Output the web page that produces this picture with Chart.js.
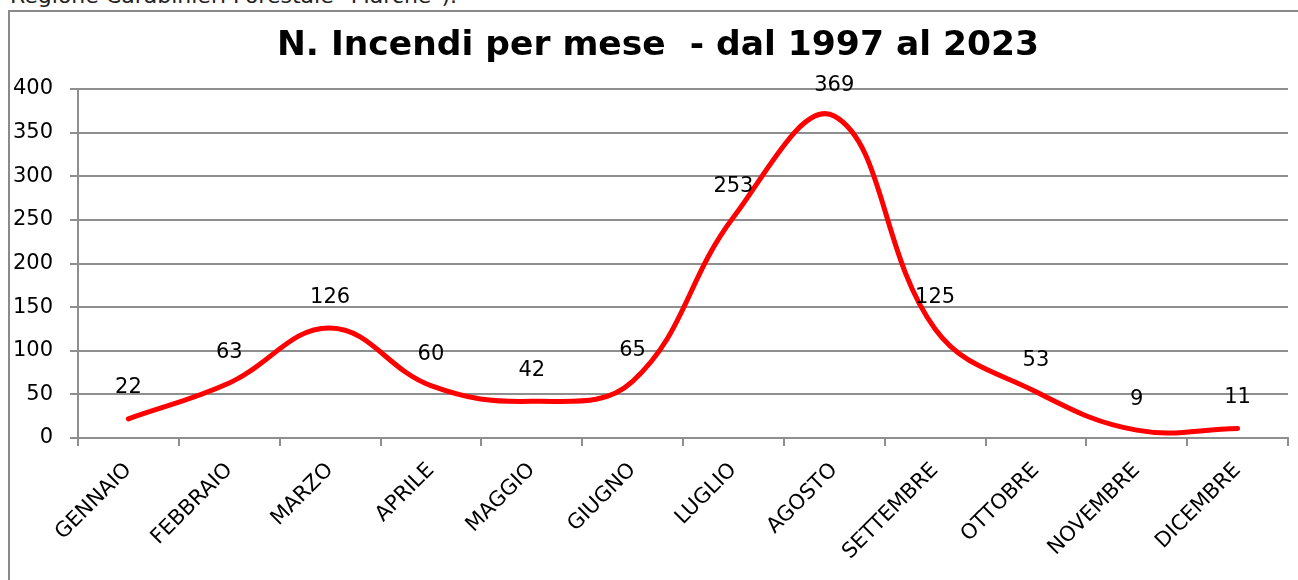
<!DOCTYPE html>
<html>
<head>
<meta charset="utf-8">
<script src="https://cdn.jsdelivr.net/npm/chart.js@4.4.1/dist/chart.umd.min.js"></script>
<style>
  html, body { margin: 0; padding: 0; background: #ffffff; overflow: hidden; width: 1298px; height: 580px; }
  #caption { position: absolute; left: 10px; top: -15px; font: 22px "DejaVu Sans", sans-serif; line-height: 22px; color: #222; white-space: nowrap; }
  #box { position: absolute; left: 8px; top: 10px; width: 1300px; height: 600px; border: 2px solid #8a8a8a; box-sizing: border-box; background: #fff; }
  canvas { display: block; }
</style>
</head>
<body>
<div id="caption">Regione Carabinieri Forestale "Marche").</div>
<div id="box"><canvas id="c" width="1296" height="596"></canvas></div>
<script>
const chartTitle = 'N. Incendi per mese  - dal 1997 al 2023';
const months = ['GENNAIO', 'FEBBRAIO', 'MARZO', 'APRILE', 'MAGGIO', 'GIUGNO', 'LUGLIO', 'AGOSTO', 'SETTEMBRE', 'OTTOBRE', 'NOVEMBRE', 'DICEMBRE'];
const fires = [22, 63, 126, 60, 42, 65, 253, 369, 125, 53, 9, 11];
const yMin = 0;
const yMax = 400;
const yStep = 50;

const GRID = '#8e8e8e';
const FONT = '"DejaVu Sans", sans-serif';

// Title centred on the whole chart box (the box is wider than the plot area).
const boxTitle = {
  id: 'boxTitle',
  afterDraw(chart) {
    const ctx = chart.ctx;
    ctx.save();
    ctx.font = 'bold 34.5px ' + FONT;
    ctx.fillStyle = '#000';
    ctx.textAlign = 'center';
    ctx.textBaseline = 'middle';
    ctx.fillText(chartTitle, chart.width / 2, 33.7);
    ctx.restore();
  }
};

const valueLabels = {
  id: 'valueLabels',
  afterDatasetsDraw(chart) {
    const ctx = chart.ctx;
    const meta = chart.getDatasetMeta(0);
    ctx.save();
    ctx.font = '21px ' + FONT;
    ctx.fillStyle = '#000';
    ctx.textAlign = 'center';
    ctx.textBaseline = 'alphabetic';
    meta.data.forEach((pt, i) => {
      ctx.fillText(String(chart.data.datasets[0].data[i]), pt.x, pt.y - 25.5);
    });
    ctx.restore();
  }
};

new Chart(document.getElementById('c'), {
  type: 'line',
  data: {
    labels: months,
    datasets: [{
      data: fires,
      borderColor: '#ff0000',
      borderWidth: 5,
      borderCapStyle: 'round',
      borderJoinStyle: 'round',
      pointRadius: 0,
      pointHoverRadius: 0,
      fill: false,
      tension: 0.4
    }]
  },
  options: {
    responsive: false,
    animation: false,
    events: [],
    layout: { padding: { left: 0, right: 18, top: 77, bottom: 0 } },
    plugins: {
      legend: { display: false },
      tooltip: { enabled: false },
      title: { display: false }
    },
    scales: {
      x: {
        offset: true,
        grid: { display: true, offset: true, drawOnChartArea: false, drawTicks: true, tickLength: 8, color: GRID, lineWidth: 2 },
        border: { display: true, color: GRID, width: 2 },
        ticks: { autoSkip: false, minRotation: 45, maxRotation: 45, padding: 12, color: '#000', font: { family: FONT, size: 21 } },
        afterFit(s) { s.height = 170; }
      },
      y: {
        min: yMin,
        max: yMax,
        grid: { color: GRID, lineWidth: 2, drawTicks: true, tickLength: 8 },
        border: { display: true, color: GRID, width: 2 },
        ticks: { stepSize: yStep, padding: 17, color: '#000', font: { family: FONT, size: 21 } },
        afterFit(s) { s.width = 68; }
      }
    }
  },
  plugins: [valueLabels, boxTitle]
});
</script>
</body>
</html>
